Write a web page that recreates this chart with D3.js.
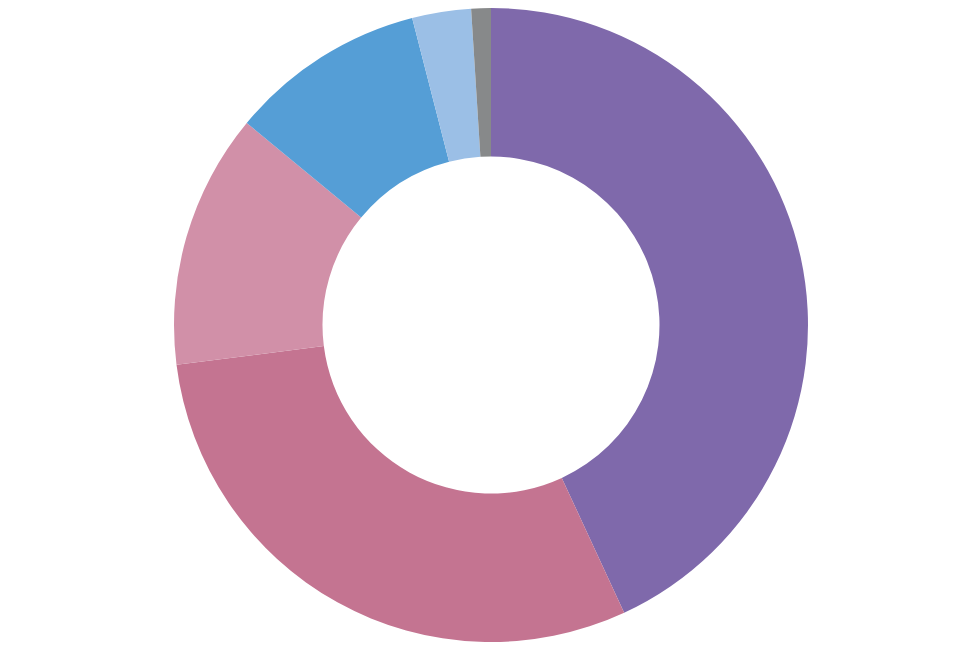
<!DOCTYPE html>
<html lang="en">

<head>
    <meta charset="utf-8">
    <title>Donut chart</title>
    <script src="https://d3js.org/d3.v7.min.js"></script>
    <style type="text/css">
        body { margin: 0; background: #fff; }
    </style>
</head>

<body>
    <script type="text/javascript">

        // data (percent)
        var categories = ["s1", "s2", "s3", "s4", "s5", "s6"];
        var values = [43.1, 29.9, 13.0, 10.0, 3.0, 1.0];
        var colors = ["#7f69ab", "#c47491", "#d190a8", "#559ed6", "#9bbfe6", "#87898a"];

        var w = 975,
            h = 650,
            cx = 491,
            cy = 325,
            outerR = 317,
            innerR = 168.5;

        var svg = d3.select("body")
            .append("svg")
            .attr("width", w)
            .attr("height", h);

        var color = d3.scaleOrdinal()
            .domain(categories)
            .range(colors);

        var pie = d3.pie()
            .sort(null)
            .value(function (d, i) { return values[i]; });

        var arc = d3.arc()
            .innerRadius(innerR)
            .outerRadius(outerR);

        svg.append("g")
            .attr("transform", "translate(" + cx + "," + cy + ")")
            .selectAll("path")
            .data(pie(categories))
            .enter()
            .append("path")
            .attr("d", arc)
            .attr("fill", function (d) { return color(d.data); });

    </script>
</body>

</html>
